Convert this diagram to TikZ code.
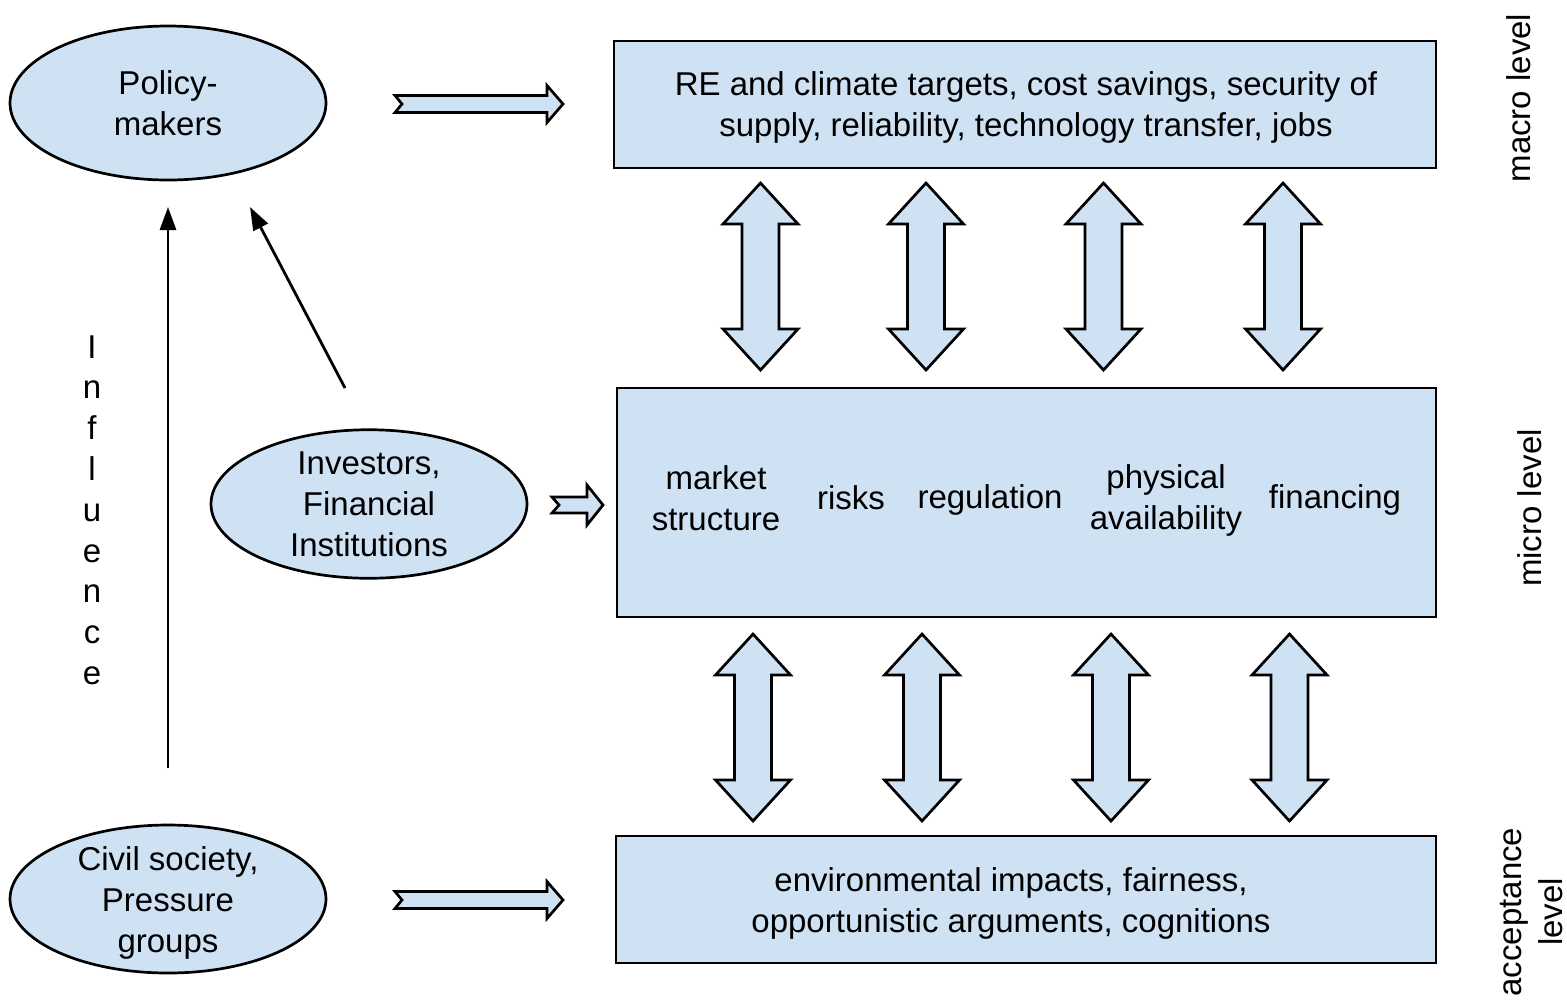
\documentclass[tikz,border=0pt]{standalone}
\usepackage{fontspec}
\setmainfont{Liberation Sans}
\usetikzlibrary{shapes.geometric,arrows.meta}
\definecolor{lblue}{HTML}{CFE2F3}
\newcommand{\rharrow}[5]{% tail x, tip x, y, shaft half, head half
  \draw[hollow] (#1,#3-#4) -- (#2-16,#3-#4) -- (#2-16,#3-#5) -- (#2,#3)
    -- (#2-16,#3+#5) -- (#2-16,#3+#4) -- (#1,#3+#4) -- (#1+7,#3) -- cycle;}
\newcommand{\vdarrow}[3]{% x, y top, y bottom
  \draw[hollow] (#1,#2) -- (#1+37.5,#2+41) -- (#1+18.5,#2+41) -- (#1+18.5,#3-41)
    -- (#1+37.5,#3-41) -- (#1,#3) -- (#1-37.5,#3-41) -- (#1-18.5,#3-41)
    -- (#1-18.5,#2+41) -- (#1-37.5,#2+41) -- cycle;}
\begin{document}
\begin{tikzpicture}[x=0.5pt,y=-0.5pt,
  every node/.style={font=\fontsize{16.5}{20.5}\selectfont, align=center, inner sep=0pt},
  box/.style={draw=black, line width=1.35pt, fill=lblue, rectangle},
  ell/.style={ellipse, draw=black, line width=1.35pt, fill=lblue, minimum width=158pt},
  hollow/.style={draw=black, line width=1.35pt, fill=lblue, line join=miter},
  infl/.style={-{Triangle[length=11.5pt,width=8pt]}, line width=1.4pt}]
\useasboundingbox (0,0) rectangle (1567,1003);

% boxes
\node[box, minimum width=411pt, minimum height=63.5pt] (macro) at (1025,104.5) {};
\node[box, minimum width=409.5pt, minimum height=114.5pt] (micro) at (1026.5,502.5) {};
\node[box, minimum width=410pt, minimum height=63.5pt] (accept) at (1026,899.5) {};

\node (macrot) at (1026,107.5) {RE and climate targets, cost savings, security of\\supply, reliability, technology transfer, jobs};
\node (acct) at (1011,903) {environmental impacts, fairness,\\opportunistic arguments, cognitions};

\node (m1) at (716,498) {market\\structure};
\node (m2) at (851,497.5) {risks};
\node (m3) at (990,500) {regulation};
\node (m4) at (1166,500.5) {physical\\availability};
\node (m5) at (1335,500) {financing};

% ellipses
\node[ell, minimum height=77pt] (pm) at (168,103) {Policy-\\makers};
\node[ell, minimum height=74pt] (inv) at (369,504) {Investors,\\Financial\\Institutions};
\node[ell, minimum height=74pt] (cs) at (168,899) {};
\node (cst) at (168,902.5) {Civil society,\\Pressure\\groups};

% hollow arrows
\rharrow{395}{563}{104}{8.5}{18.5}
\rharrow{552}{603}{505}{8}{20}
\rharrow{395}{563}{900}{8.5}{18.5}

\vdarrow{760.5}{183}{370}
\vdarrow{926}{183}{370}
\vdarrow{1103.5}{183}{370}
\vdarrow{1283}{183}{370}

\vdarrow{753}{634}{821}
\vdarrow{922}{634}{821}
\vdarrow{1111}{634}{821}
\vdarrow{1289.5}{634}{821}

% influence arrows
\coordinate (a1s) at (168,768);
\coordinate (a1e) at (168,207);
\coordinate (a2s) at (345,388);
\coordinate (a2e) at (250,207);
\draw[infl] (a1s) -- (a1e);
\draw[infl] (a2s) -- (a2e);

\node[font=\fontsize{16.5}{20.4}\selectfont] (infl) at (92,510) {I\\n\\f\\l\\u\\e\\n\\c\\e};

% level labels
\node[rotate=90] (lmacro) at (1519,98) {macro level};
\node[rotate=90] (lmicro) at (1530,508) {micro level};
\node[rotate=90] (lacc) at (1531,912) {acceptance\\level};
\end{tikzpicture}
\end{document}
